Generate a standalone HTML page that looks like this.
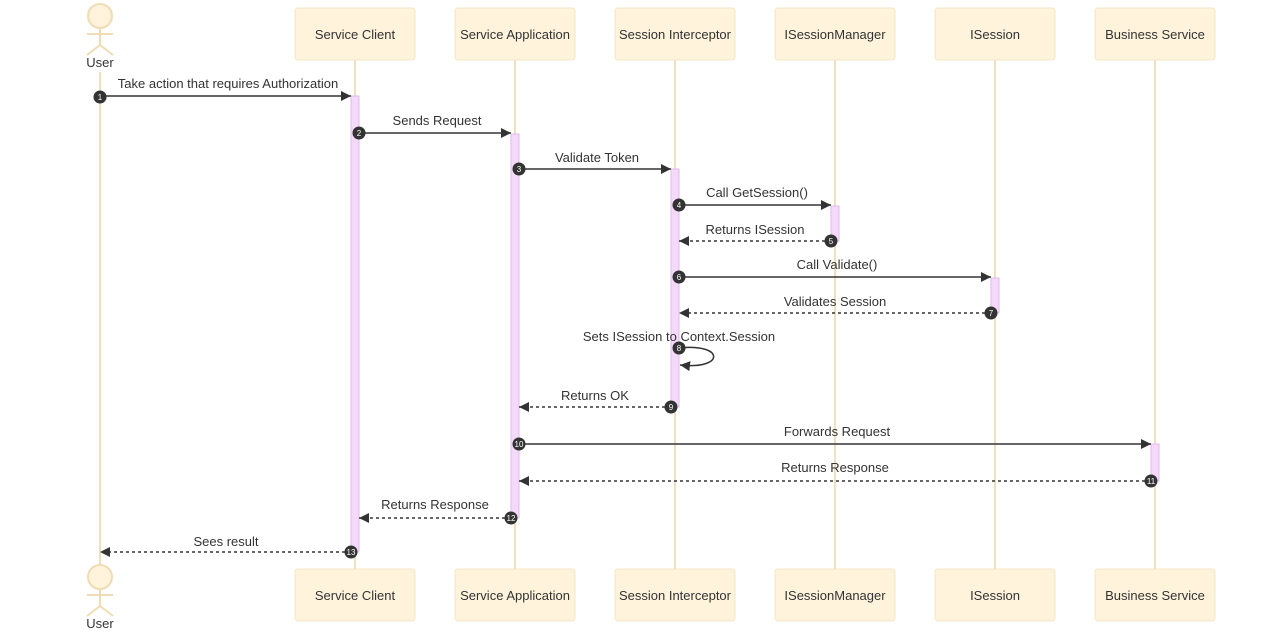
<!DOCTYPE html>
<html><head><meta charset="utf-8"><style>
html,body{margin:0;padding:0;background:#fff;}
svg text{font-family:"Liberation Sans",Arial,sans-serif;}
</style></head><body>
<svg width="1264" height="634" viewBox="0 0 1264 634" xmlns="http://www.w3.org/2000/svg">
<defs>
<marker id="ar" markerWidth="12" markerHeight="12" refX="10" refY="5" orient="auto" markerUnits="userSpaceOnUse"><path d="M0,0 L10,5 L0,10 z" fill="#333"/></marker>
</defs>
<g stroke="#f0dfbc" stroke-width="2">
<line x1="100" y1="72" x2="100" y2="566"/>
<line x1="355" y1="60" x2="355" y2="569"/>
<line x1="515" y1="60" x2="515" y2="569"/>
<line x1="675" y1="60" x2="675" y2="569"/>
<line x1="835" y1="60" x2="835" y2="569"/>
<line x1="995" y1="60" x2="995" y2="569"/>
<line x1="1155" y1="60" x2="1155" y2="569"/>
</g>
<g fill="#fff3dc" stroke="#f4e6c4" stroke-width="1">
<rect x="295" y="8" width="120" height="52" rx="3"/><rect x="455" y="8" width="120" height="52" rx="3"/><rect x="615" y="8" width="120" height="52" rx="3"/><rect x="775" y="8" width="120" height="52" rx="3"/><rect x="935" y="8" width="120" height="52" rx="3"/><rect x="1095" y="8" width="120" height="52" rx="3"/>
<rect x="295" y="569" width="120" height="52" rx="3"/><rect x="455" y="569" width="120" height="52" rx="3"/><rect x="615" y="569" width="120" height="52" rx="3"/><rect x="775" y="569" width="120" height="52" rx="3"/><rect x="935" y="569" width="120" height="52" rx="3"/><rect x="1095" y="569" width="120" height="52" rx="3"/>
</g>
<g font-size="13" fill="#333" text-anchor="middle">
<text x="355" y="39">Service Client</text><text x="515" y="39">Service Application</text><text x="675" y="39">Session Interceptor</text><text x="835" y="39">ISessionManager</text><text x="995" y="39">ISession</text><text x="1155" y="39">Business Service</text>
<text x="355" y="600">Service Client</text><text x="515" y="600">Service Application</text><text x="675" y="600">Session Interceptor</text><text x="835" y="600">ISessionManager</text><text x="995" y="600">ISession</text><text x="1155" y="600">Business Service</text>
<text x="100" y="67">User</text><text x="100" y="628">User</text>
</g>
<g fill="#fff3dc" stroke="#f0dcb4" stroke-width="2">
<circle cx="100" cy="16" r="12"/>
<line x1="100" y1="28" x2="100" y2="45"/><line x1="87" y1="34" x2="113" y2="34"/><line x1="100" y1="45" x2="87" y2="55"/><line x1="100" y1="45" x2="113" y2="55"/>
<circle cx="100" cy="577" r="12"/>
<line x1="100" y1="589" x2="100" y2="606"/><line x1="87" y1="595" x2="113" y2="595"/><line x1="100" y1="606" x2="87" y2="616"/><line x1="100" y1="606" x2="113" y2="616"/>
</g>
<g fill="#f4d9fa" stroke="#e3b8f0" stroke-width="1">
<rect x="351" y="96" width="8" height="456"/>
<rect x="511" y="134" width="8" height="384"/>
<rect x="671" y="169" width="8" height="238"/>
<rect x="831" y="206" width="8" height="35"/>
<rect x="991" y="278" width="8" height="35"/>
<rect x="1151" y="444" width="8" height="37"/>
</g>
<g stroke="#333" stroke-width="1.5" fill="none" marker-end="url(#ar)">
<line x1="100" y1="96" x2="351" y2="96"/>
<line x1="359" y1="133" x2="511" y2="133"/>
<line x1="519" y1="169" x2="671" y2="169"/>
<line x1="679" y1="205" x2="831" y2="205"/>
<line x1="831" y1="241" x2="679" y2="241" stroke-dasharray="3,3"/>
<line x1="679" y1="277" x2="991" y2="277"/>
<line x1="991" y1="313" x2="679" y2="313" stroke-dasharray="3,3"/>
<path d="M679,348 C725,343 725,370 680,365"/>
<line x1="671" y1="407" x2="519" y2="407" stroke-dasharray="3,3"/>
<line x1="519" y1="444" x2="1151" y2="444"/>
<line x1="1151" y1="481" x2="519" y2="481" stroke-dasharray="3,3"/>
<line x1="511" y1="518" x2="359" y2="518" stroke-dasharray="3,3"/>
<line x1="351" y1="552" x2="100" y2="552" stroke-dasharray="3,3"/>
</g>
<g font-size="13" fill="#333" text-anchor="middle">
<text x="228" y="88">Take action that requires Authorization</text>
<text x="437" y="125">Sends Request</text>
<text x="597" y="162">Validate Token</text>
<text x="757" y="197">Call GetSession()</text>
<text x="755" y="234">Returns ISession</text>
<text x="837" y="269">Call Validate()</text>
<text x="835" y="306">Validates Session</text>
<text x="679" y="341">Sets ISession to Context.Session</text>
<text x="595" y="400">Returns OK</text>
<text x="837" y="436">Forwards Request</text>
<text x="835" y="472">Returns Response</text>
<text x="435" y="509">Returns Response</text>
<text x="226" y="546">Sees result</text>
</g>
<g fill="#333">
<circle cx="100" cy="97" r="6.5"/><circle cx="359" cy="133" r="6.5"/><circle cx="519" cy="169" r="6.5"/><circle cx="679" cy="205" r="6.5"/><circle cx="831" cy="241" r="6.5"/><circle cx="679" cy="277" r="6.5"/><circle cx="991" cy="313" r="6.5"/><circle cx="679" cy="348" r="6.5"/><circle cx="671" cy="407" r="6.5"/><circle cx="519" cy="444" r="6.5"/><circle cx="1151" cy="481" r="6.5"/><circle cx="511" cy="518" r="6.5"/><circle cx="351" cy="552" r="6.5"/>
</g>
<g font-size="8" fill="#fff" text-anchor="middle">
<text x="100" y="100">1</text><text x="359" y="136">2</text><text x="519" y="172">3</text><text x="679" y="208">4</text><text x="831" y="244">5</text><text x="679" y="280">6</text><text x="991" y="316">7</text><text x="679" y="351">8</text><text x="671" y="410">9</text><text x="519" y="447">10</text><text x="1151" y="484">11</text><text x="511" y="521">12</text><text x="351" y="555">13</text>
</g>
</svg>
</body></html>
